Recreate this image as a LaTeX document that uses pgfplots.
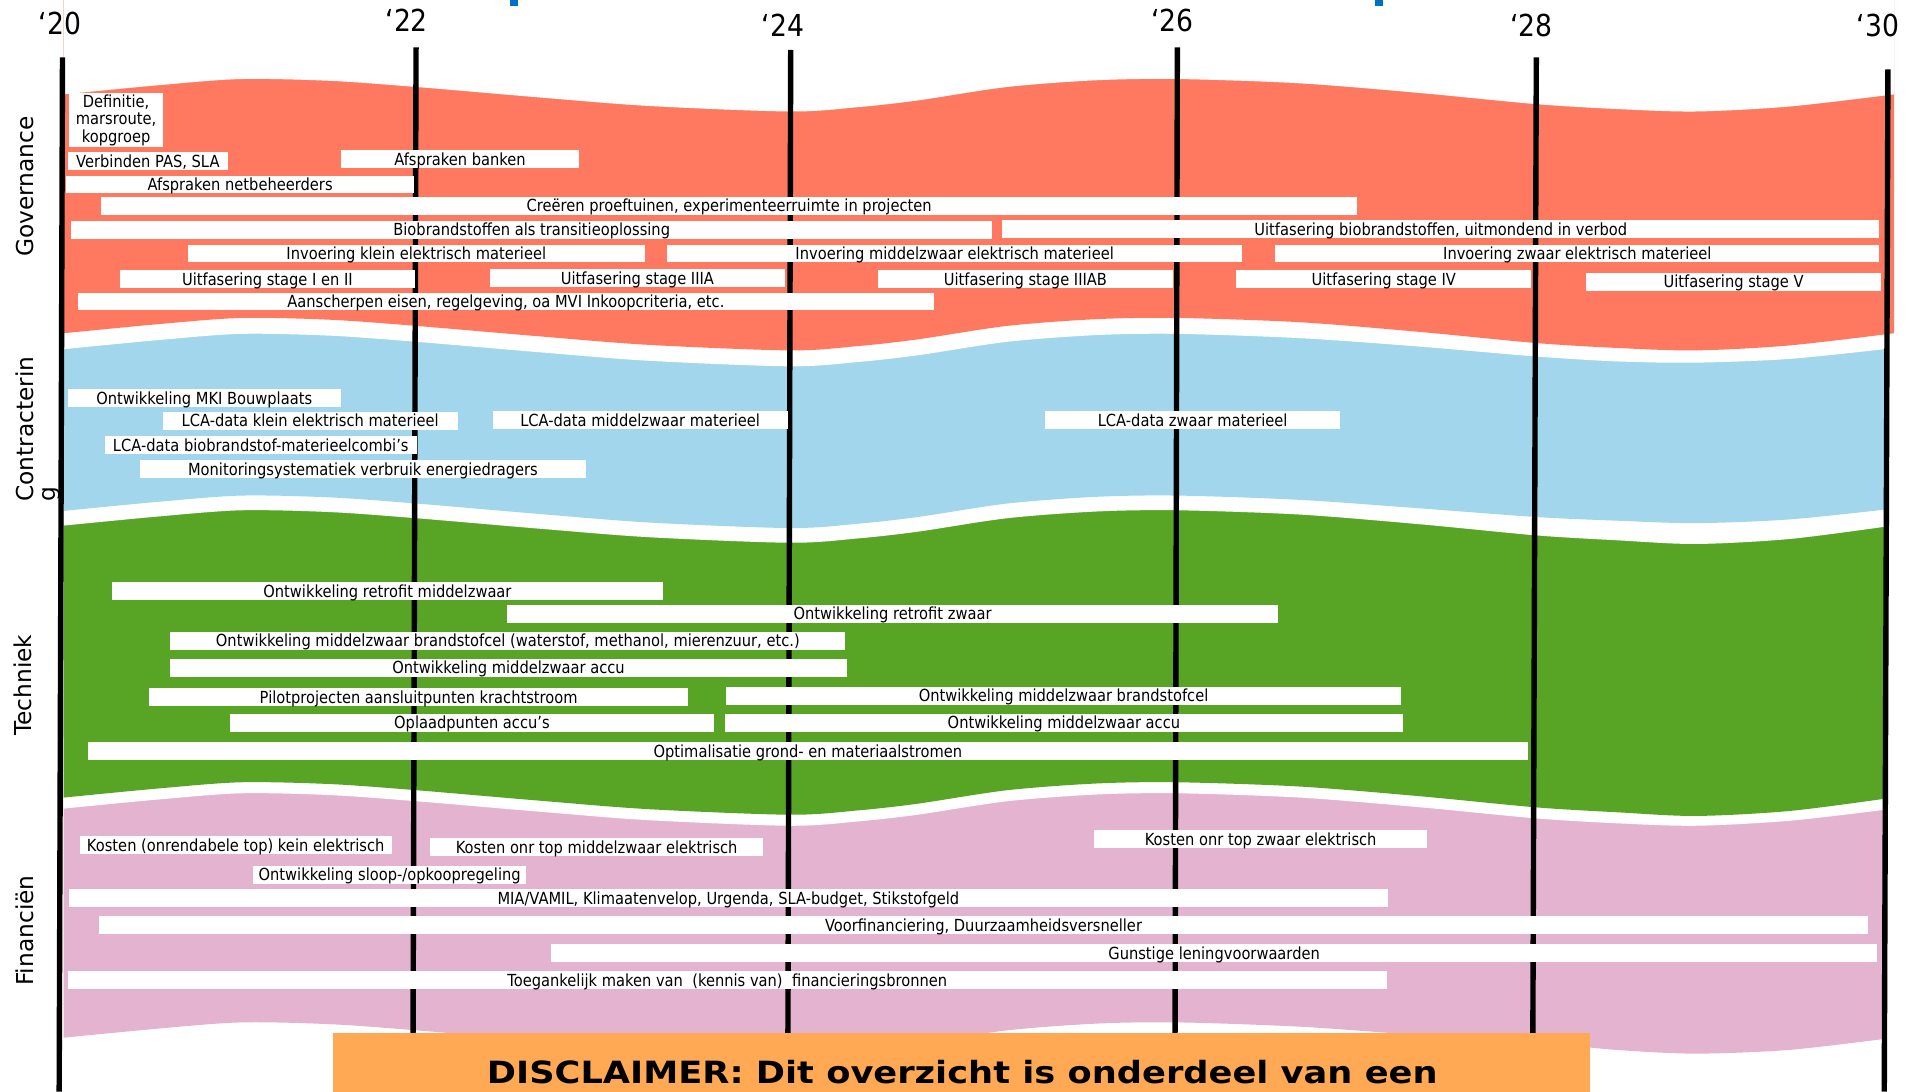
\documentclass[border=0pt]{standalone}
\usepackage{pgfplots}
\pgfplotsset{compat=1.18}
\usepackage{fontspec}
\setmainfont{DejaVu Sans}
\newfontfamily\condf[FakeStretch=0.88]{DejaVu Sans}
\newfontfamily\discf[FakeStretch=1.15]{DejaVu Sans}
\definecolor{govred}{RGB}{255,120,96}
\definecolor{conblue}{RGB}{161,214,236}
\definecolor{tecgreen}{RGB}{88,165,37}
\definecolor{finpink}{RGB}{228,179,208}
\definecolor{discor}{RGB}{255,169,84}
\definecolor{titleblue}{RGB}{0,112,192}
\newcommand{\lblfont}{\condf\fontsize{6.8}{7.1}\selectfont}
\newcommand{\gb}[4]{\addplot[white, line width=7.25pt] coordinates {(#1,#3) (#2,#3)} node[pos=0.5, anchor=base, yshift=-2.48pt, text=black, inner sep=0pt, font=\lblfont]{#4};}
\begin{document}
\begin{tikzpicture}
\useasboundingbox (0,0) rectangle (784pt,445.5pt);
\clip (0,0) rectangle (784pt,445.5pt);
\begin{axis}[at={(0,0)}, anchor=south west, width=784pt, height=445.5pt, scale only axis,
  xmin=0, xmax=1568, ymin=0, ymax=891, y dir=reverse, hide axis, no marks]
% ---- bands: each edge fills everything above it, painted from bottom to top ----
% Financien bottom edge
\addplot[fill=finpink, draw=none, smooth] coordinates {(52,847) (130,839.5) (197,834.5) (270,836) (340,841) (440,849.5) (530,856.5) (645,861) (700,857.5) (749,852) (822,841) (895,835.5) (961,834.5) (1061,838) (1160,845) (1254,851) (1320,857) (1384,860) (1460,857) (1538,848)} \closedcycle;
% Financien top edge
\addplot[fill=white, draw=none, smooth] coordinates {(52,660) (130,652.5) (197,647.5) (270,649) (340,654) (440,662.5) (530,669.5) (645,674) (700,670.5) (749,665) (822,654) (895,648.5) (961,647.5) (1061,651) (1160,659) (1254,668) (1320,672) (1384,674) (1460,670) (1538,661)} \closedcycle;
% Techniek bottom edge
\addplot[fill=tecgreen, draw=none, smooth] coordinates {(52,651) (130,643.5) (197,638.5) (270,640) (340,645) (440,653.5) (530,660.5) (645,665) (700,661.5) (749,656) (822,645) (895,639.5) (961,638.5) (1061,642) (1160,650) (1254,659) (1320,663) (1384,666) (1460,662) (1538,652)} \closedcycle;
% Techniek top edge
\addplot[fill=white, draw=none, smooth] coordinates {(52,429) (130,421.5) (197,416.5) (270,418) (340,423) (440,431.5) (530,438.5) (645,443) (700,439.5) (749,434) (822,423) (895,417.5) (961,416.5) (1061,420) (1160,428) (1254,437) (1320,441) (1384,444) (1460,440) (1538,430)} \closedcycle;
% Contractering bottom edge
\addplot[fill=conblue, draw=none, smooth] coordinates {(52,417) (130,409.5) (197,404.5) (270,406) (340,411) (440,419.5) (530,426.5) (645,431) (700,427.5) (749,422) (822,411) (895,405.5) (961,404.5) (1061,408) (1160,415) (1254,422) (1320,425) (1384,427) (1460,424) (1538,416)} \closedcycle;
% Contractering top edge
\addplot[fill=white, draw=none, smooth] coordinates {(52,285) (130,277.5) (197,272.5) (270,274) (340,279) (440,287.5) (530,294.5) (645,299) (700,295.5) (749,290) (822,279) (895,273.5) (961,272.5) (1061,276) (1160,283) (1254,291) (1320,295) (1384,296) (1460,293) (1538,285)} \closedcycle;
% Governance bottom edge
\addplot[fill=govred, draw=none, smooth] coordinates {(52,272) (130,264.5) (197,259.5) (270,261) (340,266) (440,274.5) (530,281.5) (645,286) (700,282.5) (749,277) (822,266) (895,260.5) (961,259.5) (1061,263) (1160,271) (1254,280) (1320,284) (1384,286) (1460,282) (1546,272)} \closedcycle;
% Governance top edge
\addplot[fill=white, draw=none, smooth] coordinates {(52,77) (130,69.5) (197,64.5) (270,66) (340,71) (440,79.5) (530,86.5) (645,91) (700,87.5) (749,82) (822,71) (895,65.5) (961,64.5) (1061,68) (1160,76) (1254,85) (1320,89) (1384,91) (1460,87) (1546,77)} \closedcycle;
% ---- year lines ----
\addplot[black, line width=2.2pt] coordinates {(51,46.8) (48.3,891)};
\addplot[black, line width=2.2pt] coordinates {(339.6,38.6) (337,891)};
\addplot[black, line width=2.2pt] coordinates {(645.4,40.8) (643,891)};
\addplot[black, line width=2.2pt] coordinates {(961,38.6) (959,891)};
\addplot[black, line width=2.2pt] coordinates {(1254,46.8) (1251,891)};
\addplot[black, line width=2.2pt] coordinates {(1541,56.6) (1538,891)};
% ---- Governance ----
\addplot[white, line width=22pt] coordinates {(56.5,98) (133,98)} node[pos=0.5, anchor=center, text=black, inner sep=0pt, align=center, font=\lblfont]{Definitie,\\marsroute,\\kopgroep};
\gb{55.4}{186}{131.5}{Verbinden PAS, SLA}
\gb{278}{473}{130}{Afspraken banken}
\gb{54}{338}{150.5}{Afspraken netbeheerders}
\gb{82.4}{1108}{168}{Creëren proeftuinen, experimenteerruimte in projecten}
\gb{58}{810}{187.5}{Biobrandstoffen als transitieoplossing}
\gb{818}{1534}{187}{Uitfasering biobrandstoffen, uitmondend in verbod}
\gb{153.4}{526.2}{207}{Invoering klein elektrisch materieel}
\gb{544.5}{1014}{207}{Invoering middelzwaar elektrisch materieel}
\gb{1041}{1534}{207}{Invoering zwaar elektrisch materieel}
\gb{98}{338.5}{228}{Uitfasering stage I en II}
\gb{400}{640.6}{227}{Uitfasering stage IIIA}
\gb{716.5}{957.5}{228}{Uitfasering stage IIIAB}
\gb{1009}{1250}{228}{Uitfasering stage IV}
\gb{1294.6}{1535.5}{230}{Uitfasering stage V}
\gb{63.8}{762}{246}{Aanscherpen eisen, regelgeving, oa MVI Inkoopcriteria, etc.}
% ---- Contractering ----
\gb{55.4}{278}{325}{Ontwikkeling MKI Bouwplaats}
\gb{133}{373.5}{343.5}{LCA-data klein elektrisch materieel}
\gb{402}{643}{343}{LCA-data middelzwaar materieel}
\gb{853}{1094}{343}{LCA-data zwaar materieel}
\gb{85.7}{340}{363.5}{LCA-data biobrandstof-materieelcombi’s}
\gb{114.5}{478}{383}{Monitoringsystematiek verbruik energiedragers}
% ---- Techniek ----
\gb{91.5}{541}{482.5}{Ontwikkeling retrofit middelzwaar}
\gb{414}{1043}{501}{Ontwikkeling retrofit zwaar}
\gb{139}{690}{523}{Ontwikkeling middelzwaar brandstofcel (waterstof, methanol, mierenzuur, etc.)}
\gb{138.5}{691.6}{545}{Ontwikkeling middelzwaar accu}
\gb{121.9}{561.6}{569}{Pilotprojecten aansluitpunten krachtstroom}
\gb{592.6}{1143.6}{568}{Ontwikkeling middelzwaar brandstofcel}
\gb{187.7}{582.7}{590}{Oplaadpunten accu’s}
\gb{591.8}{1145}{590}{Ontwikkeling middelzwaar accu}
\gb{71.8}{1247}{613}{Optimalisatie grond- en materiaalstromen}
% ---- Financien ----
\gb{65.2}{319.6}{690}{Kosten (onrendabele top) kein elektrisch}
\gb{351}{623}{691.5}{Kosten onr top middelzwaar elektrisch}
\gb{893}{1165}{685}{Kosten onr top zwaar elektrisch}
\gb{206.6}{429.5}{714}{Ontwikkeling sloop-/opkoopregeling}
\gb{56}{1133}{733}{MIA/VAMIL, Klimaatenvelop, Urgenda, SLA-budget, Stikstofgeld}
\gb{80.6}{1525}{755}{Voorfinanciering, Duurzaamheidsversneller}
\gb{450}{1532}{778}{Gunstige leningvoorwaarden}
\gb{55.3}{1132}{800}{Toegankelijk maken van~ (kennis van)~ financieringsbronnen}
% ---- disclaimer ----
\addplot[discor, line width=30pt] coordinates {(272,873) (1298,873)};
\node[font=\discf\bfseries\fontsize{12.5}{14}\selectfont, anchor=base, inner sep=0pt] at (axis cs:785.5,884) {DISCLAIMER: Dit overzicht is onderdeel van een};
% ---- title fragments ----
\addplot[titleblue, line width=3.5pt] coordinates {(419.5,0) (419.5,5)};
\addplot[titleblue, line width=3.5pt] coordinates {(1125.5,0) (1125.5,5)};
% ---- year labels ----
\node[font=\condf\fontsize{12.35}{14}\selectfont, anchor=base, inner sep=0pt] at (axis cs:49,27.8) {‘20};
\node[font=\condf\fontsize{12.35}{14}\selectfont, anchor=base, inner sep=0pt] at (axis cs:332,25.9) {‘22};
\node[font=\condf\fontsize{12.35}{14}\selectfont, anchor=base, inner sep=0pt] at (axis cs:639,29.4) {‘24};
\node[font=\condf\fontsize{12.35}{14}\selectfont, anchor=base, inner sep=0pt] at (axis cs:957,25.9) {‘26};
\node[font=\condf\fontsize{12.35}{14}\selectfont, anchor=base, inner sep=0pt] at (axis cs:1250,29.4) {‘28};
\node[font=\condf\fontsize{12.35}{14}\selectfont, anchor=base, inner sep=0pt] at (axis cs:1533,30) {‘30};
% ---- category labels ----
\node[rotate=90, anchor=base west, inner sep=0pt, font=\fontsize{9.5}{11}\selectfont] at (axis cs:27,210) {Governance};
\node[rotate=90, anchor=base west, inner sep=0pt, font=\fontsize{9.5}{11}\selectfont] at (axis cs:27.4,410) {Contracterin};
\node[rotate=90, anchor=base west, inner sep=0pt, font=\fontsize{9.5}{11}\selectfont] at (axis cs:45,410) {g};
\node[rotate=90, anchor=base west, inner sep=0pt, font=\fontsize{9.5}{11}\selectfont] at (axis cs:26,601) {Techniek};
\node[rotate=90, anchor=base west, inner sep=0pt, font=\fontsize{9.5}{11}\selectfont] at (axis cs:27,805) {Financiën};
\end{axis}
\end{tikzpicture}
\end{document}
